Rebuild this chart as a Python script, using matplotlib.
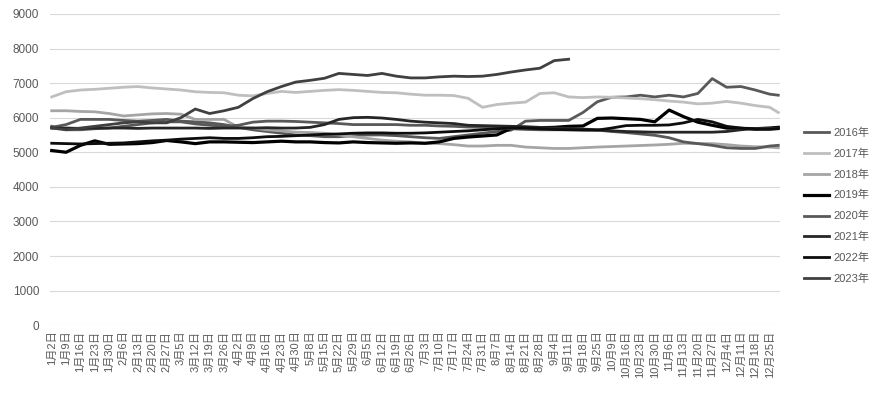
import numpy as np
import matplotlib
matplotlib.use("Agg")
import matplotlib.pyplot as plt

plt.rcParams["font.family"] = ["Liberation Sans", "Noto Sans CJK SC", "DejaVu Sans"]

# trading-day category axis, one label every 5 days
TICK_LABELS = [
    "1月2日", "1月9日", "1月16日", "1月23日", "1月30日", "2月6日", "2月13日", "2月20日",
    "2月27日", "3月5日", "3月12日", "3月19日", "3月26日", "4月2日", "4月9日", "4月16日",
    "4月23日", "4月30日", "5月8日", "5月15日", "5月22日", "5月29日", "6月5日", "6月12日",
    "6月19日", "6月26日", "7月3日", "7月10日", "7月17日", "7月24日", "7月31日", "8月7日",
    "8月14日", "8月21日", "8月28日", "9月4日", "9月11日", "9月18日", "9月25日", "10月9日",
    "10月16日", "10月23日", "10月30日", "11月6日", "11月13日", "11月20日", "11月27日",
    "12月4日", "12月11日", "12月18日", "12月25日",
]
N_DAYS = 254
# sample positions (trading-day index): weekly + last day
X_IDX = list(range(0, 251, 5)) + [253]

S2016 = [5720, 5800, 5950, 5950, 5950, 5920, 5900, 5920, 5950, 5900, 5880, 5850, 5800,
         5720, 5650, 5600, 5550, 5500, 5480, 5450, 5450, 5480, 5500, 5500, 5480, 5450,
         5420, 5400, 5450, 5500, 5550, 5600, 5640, 5900, 5920, 5920, 5920, 6150, 6460,
         6590, 6600, 6650, 6600, 6650, 6600, 6700, 7130, 6880, 6900, 6800, 6680, 6650]
S2017 = [6600, 6750, 6800, 6820, 6850, 6880, 6900, 6860, 6830, 6800, 6750, 6730, 6720,
         6650, 6630, 6700, 6760, 6730, 6760, 6790, 6810, 6790, 6760, 6730, 6720, 6680,
         6650, 6650, 6640, 6560, 6300, 6380, 6420, 6450, 6700, 6720, 6600, 6580, 6600,
         6590, 6570, 6550, 6520, 6480, 6450, 6400, 6420, 6470, 6420, 6350, 6300, 6150]
S2018 = [6200, 6200, 6180, 6170, 6120, 6050, 6080, 6110, 6120, 6100, 5950, 5950, 5950,
         5720, 5700, 5650, 5620, 5580, 5570, 5550, 5500, 5450, 5400, 5350, 5320, 5300,
         5260, 5250, 5220, 5180, 5180, 5200, 5200, 5150, 5130, 5110, 5110, 5130, 5150,
         5165, 5180, 5195, 5210, 5230, 5260, 5250, 5250, 5220, 5180, 5160, 5150, 5130]
S2019 = [5050, 5000, 5200, 5330, 5230, 5240, 5250, 5280, 5340, 5300, 5250, 5300, 5300,
         5290, 5280, 5300, 5320, 5300, 5300, 5280, 5270, 5300, 5280, 5270, 5260, 5270,
         5260, 5300, 5400, 5440, 5470, 5500, 5690, 5700, 5710, 5720, 5750, 5760, 5980,
         5990, 5970, 5950, 5880, 6220, 6030, 5870, 5780, 5700, 5690, 5680, 5700, 5720]
S2020 = [5750, 5650, 5650, 5680, 5700, 5750, 5800, 5850, 5880, 5880, 5820, 5780, 5750,
         5780, 5870, 5900, 5900, 5890, 5870, 5850, 5830, 5800, 5800, 5800, 5800, 5780,
         5780, 5760, 5750, 5730, 5720, 5700, 5680, 5660, 5650, 5650, 5650, 5650, 5640,
         5600, 5570, 5530, 5490, 5420, 5300, 5250, 5200, 5130, 5110, 5110, 5180, 5200]
S2021 = [5700, 5700, 5690, 5700, 5700, 5700, 5690, 5700, 5700, 5700, 5700, 5690, 5700,
         5700, 5700, 5710, 5700, 5700, 5720, 5800, 5950, 6000, 6010, 5990, 5950, 5900,
         5870, 5850, 5830, 5780, 5770, 5760, 5750, 5740, 5720, 5700, 5690, 5670, 5650,
         5620, 5600, 5590, 5580, 5580, 5580, 5580, 5580, 5600, 5650, 5690, 5690, 5700]
S2022 = [5260, 5250, 5240, 5250, 5260, 5270, 5300, 5330, 5350, 5380, 5400, 5420, 5400,
         5400, 5420, 5450, 5460, 5480, 5500, 5520, 5530, 5550, 5560, 5560, 5550, 5550,
         5560, 5580, 5600, 5620, 5650, 5680, 5700, 5700, 5680, 5660, 5650, 5640, 5640,
         5700, 5770, 5780, 5780, 5790, 5850, 5950, 5880, 5750, 5700, 5660, 5660, 5680]
S2023 = [5700, 5650, 5700, 5750, 5800, 5850, 5880, 5850, 5850, 6000, 6250, 6120, 6200,
         6300, 6550, 6750, 6900, 7030, 7080, 7140, 7280, 7250, 7220, 7280, 7200, 7150,
         7150, 7180, 7200, 7190, 7200, 7250, 7320, 7380, 7430, 7650, 7690]

SERIES = [
    ("2016年", S2016, "#595959", 2.0),
    ("2017年", S2017, "#bfbfbf", 2.0),
    ("2018年", S2018, "#a5a5a5", 2.0),
    ("2019年", S2019, "#000000", 2.3),
    ("2020年", S2020, "#595959", 2.0),
    ("2021年", S2021, "#262626", 2.0),
    ("2022年", S2022, "#0d0d0d", 2.0),
    ("2023年", S2023, "#404040", 2.0),
]

fig = plt.figure(figsize=(8.82, 3.98), dpi=100)
ax = fig.add_axes([0.057, 0.183, 0.827, 0.782])

for name, vals, color, lw in SERIES:
    ax.plot(X_IDX[:len(vals)], vals, color=color, linewidth=lw, label=name,
            solid_joinstyle="round")

ax.set_xlim(-0.5, N_DAYS - 0.5)
ax.set_ylim(0, 9000)
ax.set_yticks(range(0, 9001, 1000))
ax.set_xticks(range(0, 5 * len(TICK_LABELS), 5))
ax.set_xticklabels(TICK_LABELS, rotation=90)
ax.tick_params(axis="y", length=0, pad=8, labelsize=8.5, labelcolor="#595959")
ax.tick_params(axis="x", length=0, pad=4, labelsize=8, labelcolor="#595959")
ax.grid(axis="y", color="#d9d9d9", linewidth=0.8)
ax.set_axisbelow(True)
for s in ax.spines.values():
    s.set_visible(False)

fig.legend(loc="center left", bbox_to_anchor=(0.9, 0.483), frameon=False,
           fontsize=8, handlelength=2.3, handletextpad=0.4, labelspacing=0.95,
           labelcolor="#595959")

fig.savefig("out.png", dpi=100)
